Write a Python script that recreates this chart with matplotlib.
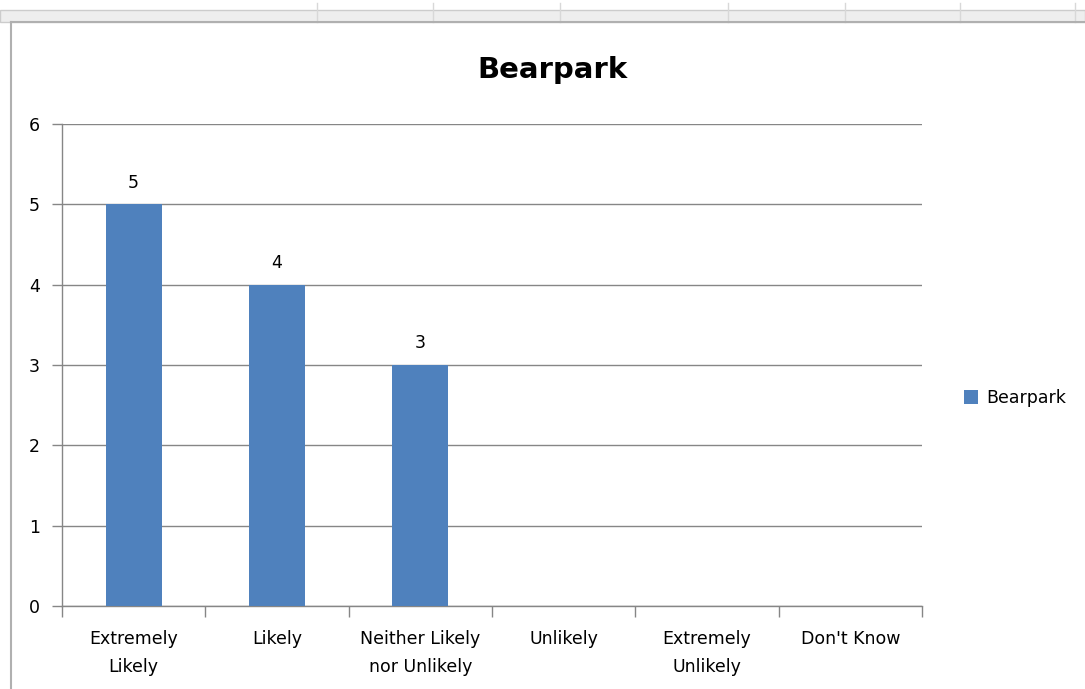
import matplotlib
matplotlib.use("Agg")
import matplotlib.pyplot as plt
from matplotlib.patches import Rectangle
from matplotlib.lines import Line2D
import numpy as np

categories = ["Extremely\nLikely", "Likely", "Neither Likely\nnor Unlikely", "Unlikely", "Extremely\nUnlikely", "Don't Know"]
values = [5, 4, 3, 0, 0, 0]
labels_shown = [True, True, True, False, False, False]
series_name = "Bearpark"
yticks = [0, 1, 2, 3, 4, 5, 6]

W, H = 1085, 689
fig = plt.figure(figsize=(W / 100, H / 100), dpi=100)
fig.patch.set_facecolor("white")

# Spreadsheet-like top strip and chart frame
fig.patches.append(Rectangle((0, 1 - 22 / H), 1, 12 / H, transform=fig.transFigure,
                             facecolor="#eeeeee", edgecolor="#cccccc", lw=1.0, zorder=0))
for xp in [317, 433, 560, 728, 845, 960, 1075]:
    fig.lines.append(Line2D([xp / W, xp / W], [1 - 22 / H, 1 - 3 / H], transform=fig.transFigure,
                            color="#d8d8d8", lw=1.0))
fig.lines.append(Line2D([11 / W, 11 / W], [0, 1 - 22 / H], transform=fig.transFigure, color="#b0b0b0", lw=1.5))
fig.lines.append(Line2D([11 / W, 1], [1 - 22 / H, 1 - 22 / H], transform=fig.transFigure, color="#b0b0b0", lw=1.5))

ax = fig.add_axes([62 / W, 1 - 606 / H, (922 - 62) / W, (606 - 124) / H])
x = np.arange(len(categories))
bars = ax.bar(x, values, width=0.39, color="#4F81BD", label=series_name, zorder=3)

ax.set_xlim(-0.5, len(categories) - 0.5)
ax.set_ylim(0, 6)
ax.set_yticks(yticks)
ax.set_yticklabels([str(t) for t in yticks], fontsize=12.5)
ax.yaxis.grid(True, color="#868686", lw=1.0, zorder=0)
ax.set_axisbelow(True)

ax.set_xticks(x)
ax.set_xticklabels(categories, fontsize=12.5, linespacing=1.75)
ax.tick_params(axis="x", which="major", length=0, pad=17)
ax.set_xticks(np.arange(-0.5, len(categories)), minor=True)
ax.tick_params(axis="x", which="minor", length=8, color="#868686", width=1.0)
ax.tick_params(axis="y", length=7, color="#868686", width=1.0, pad=9)

for s in ["top", "right"]:
    ax.spines[s].set_visible(False)
for s in ["left", "bottom"]:
    ax.spines[s].set_color("#868686")
    ax.spines[s].set_linewidth(1.0)

for b, v, show in zip(bars, values, labels_shown):
    if show:
        ax.annotate(str(v), (b.get_x() + b.get_width() / 2, v), xytext=(0, 9),
                    textcoords="offset points", ha="center", va="bottom", fontsize=12.5)

fig.text(553 / W, 1 - 70 / H, "Bearpark", ha="center", va="center", fontsize=21, fontweight="bold")

leg = ax.legend(loc="center left", bbox_to_anchor=(948 / W, 1 - 398 / H), bbox_transform=fig.transFigure,
                frameon=False, fontsize=12.5, handlelength=0.8, handleheight=0.8, handletextpad=0.5)

fig.savefig("out.png", dpi=100)
